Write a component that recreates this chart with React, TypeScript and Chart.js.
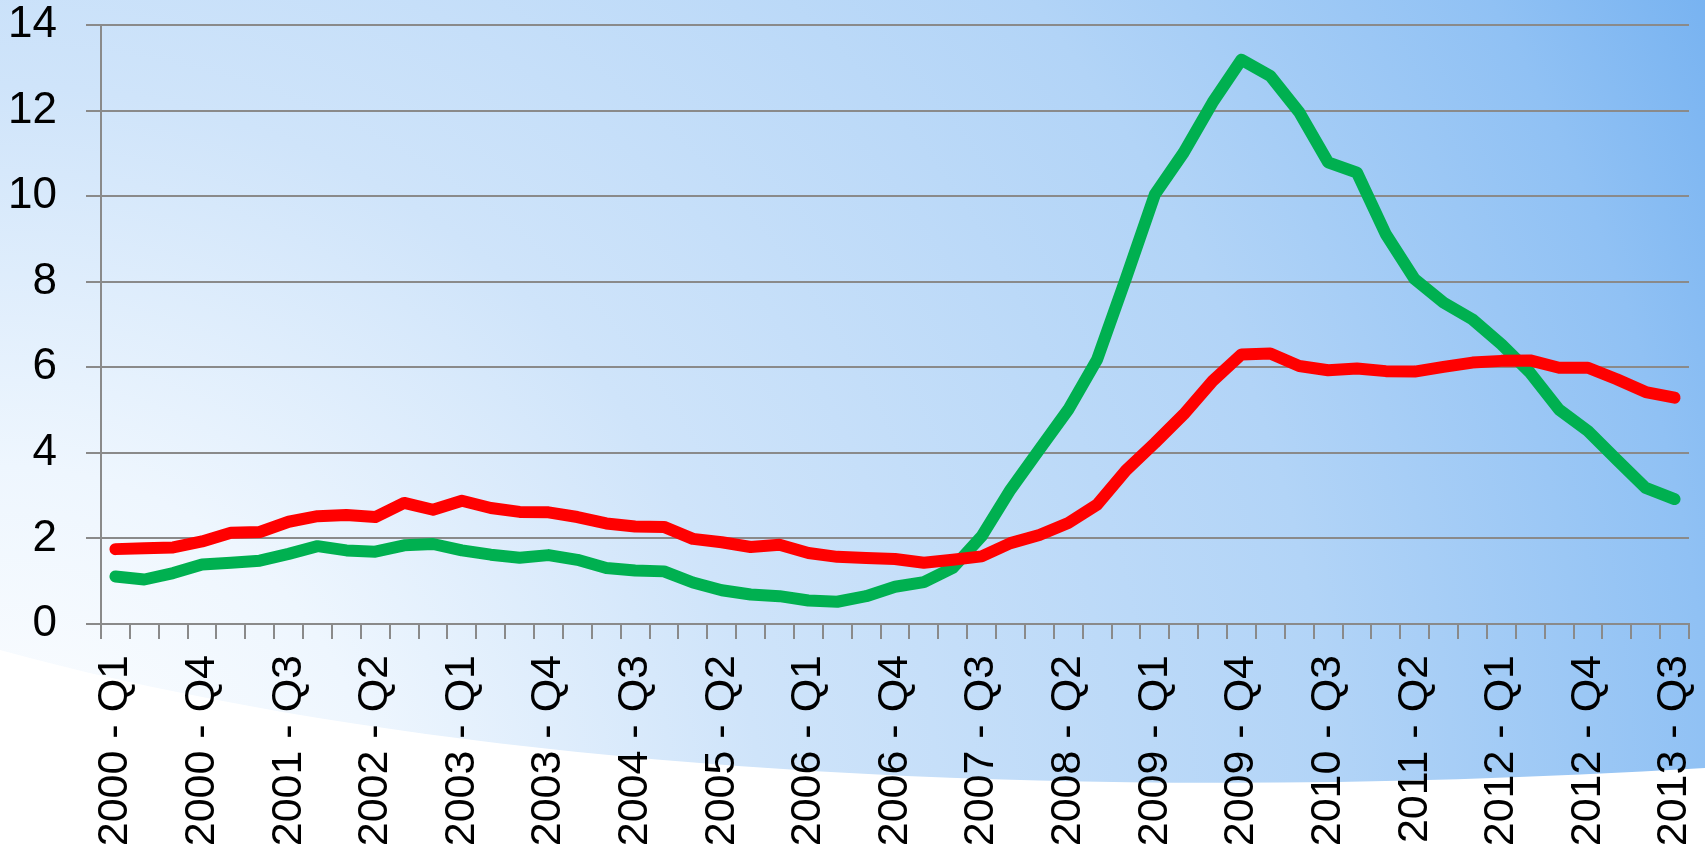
import React, { useEffect, useRef } from 'react';
import { Chart, registerables } from 'chart.js';

Chart.register(...registerables);

const categories = [
  '2000 - Q1', '2000 - Q2', '2000 - Q3', '2000 - Q4',
  '2001 - Q1', '2001 - Q2', '2001 - Q3', '2001 - Q4',
  '2002 - Q1', '2002 - Q2', '2002 - Q3', '2002 - Q4',
  '2003 - Q1', '2003 - Q2', '2003 - Q3', '2003 - Q4',
  '2004 - Q1', '2004 - Q2', '2004 - Q3', '2004 - Q4',
  '2005 - Q1', '2005 - Q2', '2005 - Q3', '2005 - Q4',
  '2006 - Q1', '2006 - Q2', '2006 - Q3', '2006 - Q4',
  '2007 - Q1', '2007 - Q2', '2007 - Q3', '2007 - Q4',
  '2008 - Q1', '2008 - Q2', '2008 - Q3', '2008 - Q4',
  '2009 - Q1', '2009 - Q2', '2009 - Q3', '2009 - Q4',
  '2010 - Q1', '2010 - Q2', '2010 - Q3', '2010 - Q4',
  '2011 - Q1', '2011 - Q2', '2011 - Q3', '2011 - Q4',
  '2012 - Q1', '2012 - Q2', '2012 - Q3', '2012 - Q4',
  '2013 - Q1', '2013 - Q2', '2013 - Q3',
];

const redSeries = [
  1.75, 1.77, 1.79, 1.93, 2.13, 2.15, 2.39, 2.52, 2.55, 2.50,
  2.83, 2.67, 2.88, 2.71, 2.62, 2.61, 2.50, 2.35, 2.28, 2.27,
  1.99, 1.91, 1.80, 1.85, 1.66, 1.57, 1.54, 1.52, 1.43, 1.50,
  1.58, 1.89, 2.08, 2.36, 2.79, 3.59, 4.23, 4.90, 5.68, 6.30,
  6.32, 6.03, 5.93, 5.97, 5.91, 5.90, 6.01, 6.11, 6.15, 6.16,
  5.99, 5.99, 5.72, 5.42, 5.29,
];

const greenSeries = [
  1.11, 1.04, 1.19, 1.39, 1.43, 1.48, 1.64, 1.82, 1.72, 1.69,
  1.84, 1.87, 1.72, 1.62, 1.55, 1.61, 1.50, 1.31, 1.25, 1.23,
  0.97, 0.79, 0.69, 0.65, 0.55, 0.52, 0.65, 0.87, 0.98, 1.31,
  2.05, 3.14, 4.08, 5.01, 6.18, 8.08, 10.04, 11.02, 12.19, 13.19,
  12.81, 11.96, 10.79, 10.55, 9.11, 8.06, 7.51, 7.12, 6.54, 5.87,
  5.01, 4.51, 3.84, 3.18, 2.92,
];

const labelEvery = 3;

const backgroundPlugin = {
  id: 'slideBackground',
  beforeDraw(chart: any) {
    const { ctx, width, height } = chart;
    ctx.save();
    const r = Math.hypot(width, height);
    const g = ctx.createRadialGradient(0, height, 0, 0, height, r);
    g.addColorStop(0, '#ffffff');
    g.addColorStop(0.2, '#eef6fe');
    g.addColorStop(0.4, '#cfe4fa');
    g.addColorStop(0.7, '#b2d4f7');
    g.addColorStop(0.9, '#90c1f4');
    g.addColorStop(1, '#78b3f1');
    ctx.fillStyle = g;
    ctx.fillRect(0, 0, width, height);
    ctx.beginPath();
    ctx.moveTo(0, 650);
    ctx.bezierCurveTo(400, 760, 1000, 810, width, 768);
    ctx.lineTo(width, height);
    ctx.lineTo(0, height);
    ctx.closePath();
    ctx.fillStyle = '#ffffff';
    ctx.fill();
    ctx.restore();
  },
};

export default function App() {
  const canvasRef = useRef<HTMLCanvasElement | null>(null);

  useEffect(() => {
    document.body.style.margin = '0';
    const canvas = canvasRef.current;
    if (!canvas) return;
    const gray = '#8a8a8a';
    const chart = new Chart(canvas, {
      type: 'line',
      data: {
        labels: categories,
        datasets: [
          {
            label: 'Red',
            data: redSeries,
            borderColor: '#ff0000',
            backgroundColor: '#ff0000',
            borderWidth: 12,
            pointRadius: 0,
            tension: 0,
            borderCapStyle: 'round',
            borderJoinStyle: 'round',
          },
          {
            label: 'Green',
            data: greenSeries,
            borderColor: '#00b050',
            backgroundColor: '#00b050',
            borderWidth: 12,
            pointRadius: 0,
            tension: 0,
            borderCapStyle: 'round',
            borderJoinStyle: 'round',
          },
        ],
      },
      options: {
        responsive: false,
        animation: false,
        layout: { padding: 0 },
        plugins: {
          legend: { display: false },
          tooltip: { enabled: false },
        },
        scales: {
          x: {
            offset: true,
            grid: {
              offset: true,
              drawOnChartArea: false,
              drawTicks: true,
              tickLength: 15,
              color: gray,
              lineWidth: 2,
            },
            border: { display: true, color: gray, width: 2 },
            ticks: {
              autoSkip: false,
              minRotation: 90,
              maxRotation: 90,
              padding: 16,
              color: '#000000',
              font: { family: '"Liberation Sans", Arial, sans-serif', size: 43 },
              callback: (_v: any, idx: number) => (idx % labelEvery === 0 ? categories[idx] : ''),
            },
            afterFit: (scale: any) => {
              scale.height = 223;
              scale.paddingLeft = 0;
              scale.paddingRight = 16;
              scale.paddingTop = 0;
              scale.paddingBottom = 0;
            },
          },
          y: {
            min: 0,
            max: 14,
            ticks: {
              stepSize: 2,
              padding: 29,
              color: '#000000',
              font: { family: '"Liberation Sans", Arial, sans-serif', size: 44 },
            },
            grid: {
              color: gray,
              lineWidth: 2,
              tickLength: 15,
              drawTicks: true,
            },
            border: { display: true, color: gray, width: 2 },
            afterFit: (scale: any) => {
              scale.width = 101;
              scale.paddingTop = 25;
              scale.paddingBottom = 0;
              scale.paddingLeft = 0;
              scale.paddingRight = 0;
            },
          },
        },
      },
      plugins: [backgroundPlugin],
    });
    return () => chart.destroy();
  }, []);

  return (
    <div style={{ position: 'absolute', left: 0, top: 0, width: 1705, height: 847 }}>
      <canvas ref={canvasRef} width={1705} height={847} style={{ display: 'block' }} />
    </div>
  );
}
